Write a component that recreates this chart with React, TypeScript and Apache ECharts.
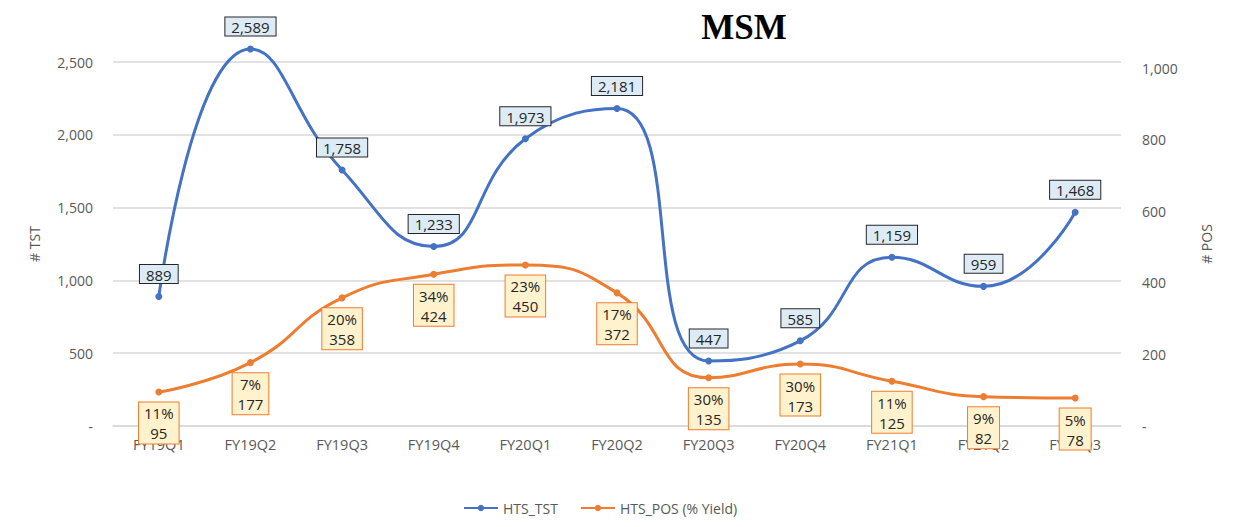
import React, { useEffect, useRef } from "react";
import * as echarts from "echarts";

const categories = ["FY19Q1", "FY19Q2", "FY19Q3", "FY19Q4", "FY20Q1", "FY20Q2", "FY20Q3", "FY20Q4", "FY21Q1", "FY21Q2", "FY21Q3"];
const tstValues = [889, 2589, 1758, 1233, 1973, 2181, 447, 585, 1159, 959, 1468];
const posValues = [95, 177, 358, 424, 450, 372, 135, 173, 125, 82, 78];
const yieldPct = ["11%", "7%", "20%", "34%", "23%", "17%", "30%", "30%", "11%", "9%", "5%"];
const leftTicks = [0, 500, 1000, 1500, 2000, 2500];
const rightTicks = [0, 200, 400, 600, 800, 1000];

const FONT = "'Open Sans', 'Noto Sans', sans-serif";
const fmt = (v: number) => (v === 0 ? "-" : v.toLocaleString("en-US"));

export default function App() {
  const ref = useRef<HTMLDivElement>(null);
  useEffect(() => {
    if (!ref.current) return;
    const chart = echarts.init(ref.current, null, { renderer: "svg" });
    chart.setOption({
      animation: false,
      backgroundColor: "#ffffff",
      title: {
        text: "MSM",
        left: 731,
        top: -3,
        textAlign: "center",
        textStyle: { fontFamily: "'Liberation Serif', serif", fontWeight: "bold", fontSize: 35, color: "#000" },
      },
      legend: {
        bottom: 2,
        padding: 0,
        left: 455,
        itemWidth: 34,
        itemHeight: 8,
        itemGap: 22,
        textStyle: { fontFamily: FONT, fontSize: 14, color: "#595959", lineHeight: 18 },
        data: ["HTS_TST", "HTS_POS (% Yield)"],
      },
      grid: { left: 105, right: 106, top: 54, bottom: 93 },
      xAxis: {
        type: "category",
        data: categories,
        boundaryGap: true,
        axisLine: { show: true, lineStyle: { color: "#d9d9d9", width: 1.5 } },
        axisTick: { show: false },
        axisLabel: { color: "#595959", fontFamily: FONT, fontSize: 14.5, margin: 11 },
      },
      yAxis: [
        {
          type: "value",
          min: 0,
          max: 2500,
          interval: 500,
          name: "# TST",
          nameLocation: "middle",
          nameRotate: 90,
          nameGap: 72,
          nameTextStyle: { color: "#595959", fontFamily: FONT, fontSize: 14 },
          axisLine: { show: false },
          axisTick: { show: false },
          splitLine: { lineStyle: { color: "#d9d9d9", width: 1.5 } },
          axisLabel: { color: "#595959", fontFamily: FONT, fontSize: 14, margin: 20, formatter: fmt, customValues: leftTicks },
        },
        {
          type: "value",
          min: 0,
          max: 1017,
          name: "# POS",
          nameLocation: "middle",
          nameRotate: 90,
          nameGap: 78,
          nameTextStyle: { color: "#595959", fontFamily: FONT, fontSize: 14 },
          axisLine: { show: false },
          axisTick: { show: false },
          splitLine: { show: false },
          axisLabel: { color: "#595959", fontFamily: FONT, fontSize: 14, margin: 21, formatter: fmt, customValues: rightTicks },
        },
      ],
      series: [
        {
          name: "HTS_TST",
          type: "line",
          data: tstValues,
          yAxisIndex: 0,
          smooth: 0.5,
          clip: false,
          symbol: "circle",
          symbolSize: 7,
          z: 3,
          itemStyle: { color: "#4472C4" },
          lineStyle: { color: "#4472C4", width: 3 },
          label: {
            show: true,
            position: "top",
            distance: 10,
            formatter: (p: any) => Number(p.value).toLocaleString("en-US"),
            color: "#262626",
            fontFamily: FONT,
            fontSize: 15,
            backgroundColor: "#DDEBF7",
            borderColor: "#262626",
            borderWidth: 1,
            padding: [2, 6, 1, 6],
          },
        },
        {
          name: "HTS_POS (% Yield)",
          type: "line",
          data: posValues,
          yAxisIndex: 1,
          smooth: 0.5,
          clip: false,
          symbol: "circle",
          symbolSize: 7,
          z: 2,
          itemStyle: { color: "#ED7D31" },
          lineStyle: { color: "#ED7D31", width: 3 },
          label: {
            show: true,
            position: "bottom",
            distance: 7,
            formatter: (p: any) => yieldPct[p.dataIndex] + "\n" + p.value,
            color: "#262626",
            fontFamily: FONT,
            fontSize: 15,
            lineHeight: 20,
            align: "center",
            backgroundColor: "#FFF2CC",
            borderColor: "#ED7D31",
            borderWidth: 1,
            padding: [1, 5, 0, 5],
          },
        },
      ],
    });
    return () => chart.dispose();
  }, []);
  return <div ref={ref} style={{ width: 1219, height: 511 }} />;
}
